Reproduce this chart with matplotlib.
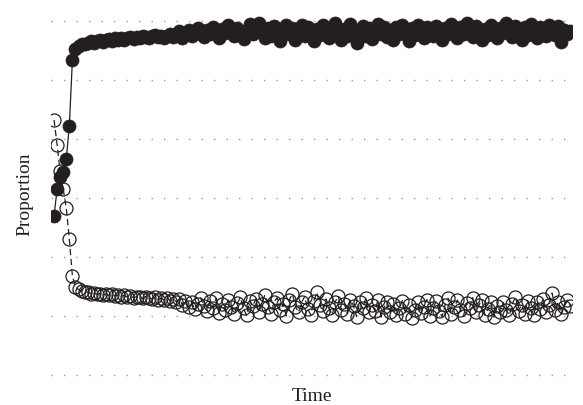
import numpy as np
import matplotlib
matplotlib.use("Agg")
import matplotlib.pyplot as plt

# proportion of the two groups over time
filled = [
    0.270, 0.315, 0.335, 0.344, 0.366, 0.422, 0.533, 0.553, 0.558, 0.561,
    0.560, 0.563, 0.565, 0.562, 0.566, 0.568, 0.564, 0.567, 0.569, 0.566,
    0.570, 0.568, 0.571, 0.567, 0.570, 0.572, 0.569, 0.573, 0.571, 0.575,
    0.572, 0.570, 0.574, 0.576, 0.572, 0.575, 0.571, 0.574, 0.577, 0.573,
    0.576, 0.582, 0.571, 0.579, 0.585, 0.574, 0.581, 0.588, 0.577, 0.572,
    0.584, 0.578, 0.590, 0.581, 0.570, 0.586, 0.579, 0.592, 0.583, 0.574,
    0.587, 0.580, 0.569, 0.585, 0.594, 0.578, 0.589, 0.596, 0.582, 0.571,
    0.588, 0.575, 0.591, 0.580, 0.566, 0.584, 0.593, 0.577, 0.587, 0.568,
    0.582, 0.592, 0.574, 0.589, 0.579, 0.565, 0.586, 0.576, 0.593, 0.583,
    0.570, 0.588, 0.597, 0.579, 0.567, 0.586, 0.574, 0.594, 0.581, 0.563,
    0.578, 0.591, 0.575, 0.587, 0.569, 0.583, 0.595, 0.578, 0.589, 0.572,
    0.584, 0.568, 0.590, 0.577, 0.593, 0.582, 0.566, 0.587, 0.576, 0.592,
    0.580, 0.571, 0.589, 0.583, 0.574, 0.591, 0.585, 0.567, 0.588, 0.577,
    0.594, 0.582, 0.570, 0.589, 0.578, 0.596, 0.584, 0.573, 0.591, 0.580,
    0.568, 0.586, 0.576, 0.593, 0.583, 0.571, 0.588, 0.579, 0.597, 0.585,
    0.572, 0.591, 0.581, 0.567, 0.589, 0.576, 0.594, 0.584, 0.570, 0.590,
    0.580, 0.574, 0.593, 0.585, 0.576, 0.591, 0.564, 0.584, 0.577, 0.582,
]
hollow = [
    0.432, 0.390, 0.345, 0.315, 0.283, 0.230, 0.168, 0.149, 0.145, 0.142,
    0.140, 0.141, 0.138, 0.139, 0.137, 0.138, 0.136, 0.137, 0.135, 0.137,
    0.134, 0.136, 0.133, 0.135, 0.132, 0.134, 0.131, 0.133, 0.132, 0.130,
    0.133, 0.131, 0.129, 0.132, 0.128, 0.130, 0.127, 0.131, 0.126, 0.129,
    0.124, 0.129, 0.119, 0.126, 0.115, 0.123, 0.112, 0.121, 0.131, 0.117,
    0.109, 0.125, 0.114, 0.130, 0.105, 0.120, 0.111, 0.127, 0.116, 0.103,
    0.122, 0.132, 0.113, 0.101, 0.126, 0.117, 0.129, 0.107, 0.121, 0.136,
    0.115, 0.104, 0.124, 0.131, 0.110, 0.120, 0.100, 0.127, 0.138, 0.116,
    0.106, 0.123, 0.133, 0.112, 0.102, 0.125, 0.140, 0.118, 0.108, 0.129,
    0.114, 0.101, 0.124, 0.134, 0.110, 0.121, 0.104, 0.128, 0.117, 0.099,
    0.123, 0.113, 0.130, 0.106, 0.119, 0.109, 0.127, 0.098, 0.115, 0.124,
    0.107, 0.120, 0.102, 0.113, 0.126, 0.104, 0.118, 0.097, 0.111, 0.123,
    0.105, 0.116, 0.128, 0.100, 0.113, 0.125, 0.108, 0.099, 0.119, 0.130,
    0.103, 0.115, 0.127, 0.110, 0.100, 0.122, 0.114, 0.131, 0.106, 0.118,
    0.128, 0.102, 0.112, 0.124, 0.098, 0.117, 0.107, 0.123, 0.111, 0.101,
    0.121, 0.132, 0.109, 0.119, 0.104, 0.126, 0.114, 0.102, 0.123, 0.112,
    0.129, 0.106, 0.118, 0.139, 0.110, 0.124, 0.103, 0.116, 0.127, 0.117,
]
grid_levels = [0.0, 0.1, 0.2, 0.3, 0.4, 0.5, 0.6]

time = np.arange(1, len(filled) + 1)
ink = "#231f20"

plt.rcParams["font.family"] = ["Liberation Serif", "DejaVu Serif"]

fig = plt.figure(figsize=(5.83, 4.06), dpi=100)
ax = fig.add_axes([51 / 583, 24 / 406, 521 / 583, 375 / 406])

# dotted horizontal guides
for g in grid_levels:
    ax.axhline(g, color="#9a9a9a", lw=1.0, ls=(0, (1, 8)), zorder=0)

ax.plot(time, hollow, color=ink, lw=0.9, ls=(0, (5, 3)),
        marker="o", ms=9.4, mfc="none", mec=ink, mew=0.9, zorder=2)
ax.plot(time, filled, color=ink, lw=0.9, ls="-",
        marker="o", ms=9.4, mfc=ink, mec=ink, mew=0.5, zorder=3)

ax.set_xlim(0.0, len(time) + 0.5)
ax.set_ylim(-0.01, 0.625)
ax.set_xticks([])
ax.set_yticks([])
for s in ax.spines.values():
    s.set_visible(False)

ax.set_xlabel("Time", fontsize=14, labelpad=4, color=ink)
ax.set_ylabel("Proportion", fontsize=14, labelpad=13, color=ink)

fig.savefig("out.png", dpi=100)
